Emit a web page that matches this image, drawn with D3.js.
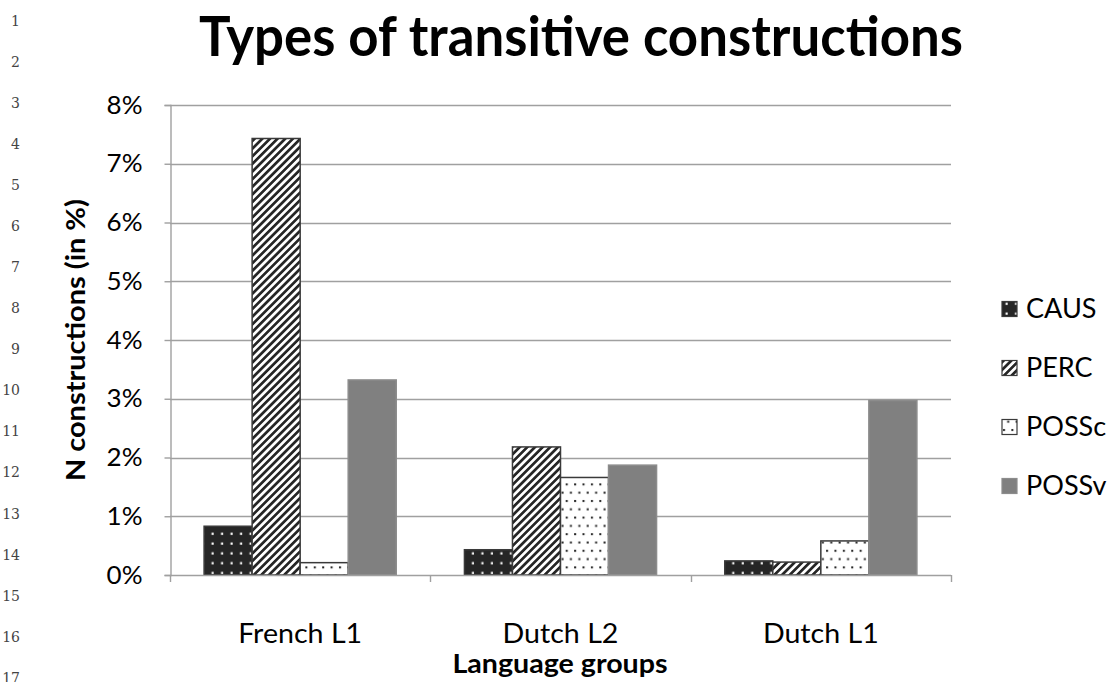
<!DOCTYPE html>
<html>
<head>
<meta charset="utf-8">
<script src="https://cdn.jsdelivr.net/npm/d3@7"></script>
<style>
  body { margin: 0; background: #fff; }
  svg { display: block; }
  text { font-family: Lato, "Open Sans", sans-serif; fill: #000; }
</style>
</head>
<body>
<svg width="1115" height="682"></svg>
<script>
// chart values (in %)
var categories = ['French L1', 'Dutch L2', 'Dutch L1'];
var seriesNames = ['CAUS', 'PERC', 'POSSc', 'POSSv'];
var caus = [0.83, 0.43, 0.24];
var perc = [7.43, 2.18, 0.22];
var possc = [0.21, 1.66, 0.58];
var possv = [3.32, 1.87, 2.97];
var yTicks = [0, 1, 2, 3, 4, 5, 6, 7, 8];
var lineNumbers = d3.range(1, 18);

var seriesValues = { CAUS: caus, PERC: perc, POSSc: possc, POSSv: possv };

var svg = d3.select('svg');
var defs = svg.append('defs');

// widen text a little: the original font (Calibri) runs wider than Lato here
function stretch(sel, k) {
    sel.each(function() {
        var len = this.getComputedTextLength();
        d3.select(this).attr('textLength', len * k).attr('lengthAdjust', 'spacingAndGlyphs');
    });
}

// fill patterns, approximating the Excel pattern fills
var pCaus = defs.append('pattern').attr('id', 'pat-CAUS')
    .attr('patternUnits', 'userSpaceOnUse').attr('width', 9.5).attr('height', 9.8);
pCaus.append('rect').attr('width', 9.5).attr('height', 9.8).attr('fill', '#262626');
pCaus.append('rect').attr('x', 3.5).attr('y', 3.5).attr('width', 2.2).attr('height', 2.2).attr('fill', '#fff');

var pPerc = defs.append('pattern').attr('id', 'pat-PERC')
    .attr('patternUnits', 'userSpaceOnUse').attr('width', 5.4).attr('height', 5.4)
    .attr('patternTransform', 'rotate(45)');
pPerc.append('rect').attr('width', 5.4).attr('height', 5.4).attr('fill', '#fff');
pPerc.append('rect').attr('width', 2.7).attr('height', 5.4).attr('fill', '#262626');

var pPossc = defs.append('pattern').attr('id', 'pat-POSSc')
    .attr('patternUnits', 'userSpaceOnUse').attr('width', 8.4).attr('height', 16.6);
pPossc.append('rect').attr('width', 8.4).attr('height', 16.6).attr('fill', '#fff');
pPossc.append('rect').attr('x', 1).attr('y', 2).attr('width', 2).attr('height', 2).attr('fill', '#222');
pPossc.append('rect').attr('x', 5.2).attr('y', 10.3).attr('width', 2).attr('height', 2).attr('fill', '#222');

var fills = {
    CAUS: 'url(#pat-CAUS)',
    PERC: 'url(#pat-PERC)',
    POSSc: 'url(#pat-POSSc)',
    POSSv: '#808080'
};
var strokes = { CAUS: '#3a3a3a', PERC: '#3a3a3a', POSSc: '#3a3a3a', POSSv: '#8c8c8c' };

var plot = { left: 170, right: 951, top: 105, bottom: 575 };

var y = d3.scaleLinear().domain([0, 8]).range([plot.bottom, plot.top]);
var x0 = d3.scaleBand().domain(categories).range([plot.left, plot.right]).padding(0);
var x1 = d3.scaleBand().domain(seriesNames).range([0, x0.bandwidth()])
    .paddingInner(0).paddingOuter(0.71);

// document line numbers on the left margin
svg.append('g').selectAll('text')
    .data(lineNumbers)
    .enter().append('text')
    .attr('x', 20)
    .attr('y', function(d) { return 21 + (d - 1) * 41.05; })
    .attr('dy', '0.35em')
    .attr('text-anchor', 'end')
    .style('font-family', '"DejaVu Serif", serif')
    .style('font-size', '14px')
    .style('fill', '#444')
    .text(function(d) { return d; });

// title
svg.append('text')
    .attr('x', 581)
    .attr('y', 56)
    .attr('text-anchor', 'middle')
    .attr('textLength', 764)
    .attr('lengthAdjust', 'spacingAndGlyphs')
    .style('font-size', '56px')
    .style('font-weight', 'bold')
    .text('Types of transitive constructions');

// gridlines
svg.append('g').selectAll('line')
    .data(yTicks.filter(function(d) { return d > 0; }))
    .enter().append('line')
    .attr('x1', plot.left).attr('x2', plot.right)
    .attr('y1', function(d) { return Math.round(y(d)) + 0.5; })
    .attr('y2', function(d) { return Math.round(y(d)) + 0.5; })
    .attr('stroke', '#a0a0a0')
    .attr('stroke-width', 1.4);

// y axis
var yAxis = svg.append('g')
    .attr('transform', 'translate(' + (plot.left + 0.5) + ',0)')
    .call(d3.axisLeft(y).tickValues(yTicks).tickSize(6).tickPadding(22)
        .tickFormat(function(d) { return d + '%'; }));
yAxis.select('.domain').attr('stroke', '#a0a0a0').attr('stroke-width', 1.4);
yAxis.selectAll('.tick line').attr('stroke', '#a0a0a0').attr('stroke-width', 1.4);
yAxis.selectAll('.tick text')
    .style('font-family', 'Lato, sans-serif')
    .style('font-size', '25px')
    .attr('fill', '#000')
    .call(stretch, 1.04);

// bars
var groups = svg.append('g').selectAll('g')
    .data(categories)
    .enter().append('g')
    .attr('transform', function(d) { return 'translate(' + x0(d) + ',0)'; });

groups.selectAll('rect')
    .data(function(d, i) {
        return seriesNames.map(function(s) { return { key: s, value: seriesValues[s][i] }; });
    })
    .enter().append('rect')
    .attr('x', function(d) { return x1(d.key); })
    .attr('y', function(d) { return y(d.value); })
    .attr('width', x1.bandwidth())
    .attr('height', function(d) { return y(0) - y(d.value); })
    .attr('fill', function(d) { return fills[d.key]; })
    .attr('stroke', function(d) { return strokes[d.key]; })
    .attr('stroke-width', 1.5);

// x axis line and boundary ticks
var boundaries = categories.map(function(c) { return x0(c); }).concat([plot.right]);
var xAxis = svg.append('g');
xAxis.append('line')
    .attr('x1', plot.left).attr('x2', plot.right)
    .attr('y1', plot.bottom + 0.5).attr('y2', plot.bottom + 0.5)
    .attr('stroke', '#a0a0a0').attr('stroke-width', 1.4);
xAxis.selectAll('.bt')
    .data(boundaries)
    .enter().append('line')
    .attr('class', 'bt')
    .attr('x1', function(d) { return Math.round(d) + 0.5; })
    .attr('x2', function(d) { return Math.round(d) + 0.5; })
    .attr('y1', plot.bottom).attr('y2', plot.bottom + 7)
    .attr('stroke', '#a0a0a0').attr('stroke-width', 1.4);
xAxis.selectAll('.cl')
    .data(categories)
    .enter().append('text')
    .attr('class', 'cl')
    .attr('x', function(d) { return x0(d) + x0.bandwidth() / 2; })
    .attr('y', 643)
    .attr('text-anchor', 'middle')
    .style('font-size', '26px')
    .text(function(d) { return d; })
    .call(stretch, 1.1);

// axis titles
svg.append('text')
    .attr('x', 560)
    .attr('y', 673)
    .attr('text-anchor', 'middle')
    .style('font-size', '26px')
    .style('font-weight', 'bold')
    .text('Language groups')
    .call(stretch, 1.1);

svg.append('text')
    .attr('transform', 'translate(85,340) rotate(-90)')
    .attr('text-anchor', 'middle')
    .attr('textLength', 282)
    .attr('lengthAdjust', 'spacingAndGlyphs')
    .style('font-size', '26px')
    .style('font-weight', 'bold')
    .text('N constructions (in %)');

// legend
var legend = svg.append('g').selectAll('g')
    .data(seriesNames)
    .enter().append('g')
    .attr('transform', function(d, i) { return 'translate(1002,' + (309 + i * 59) + ')'; });
legend.append('rect')
    .attr('x', 0).attr('y', -7.5)
    .attr('width', 15).attr('height', 15)
    .attr('fill', function(d) { return fills[d]; })
    .attr('stroke', function(d) { return strokes[d]; })
    .attr('stroke-width', 1.2);
legend.append('text')
    .attr('x', 24)
    .attr('dy', '0.36em')
    .style('font-size', '26px')
    .text(function(d) { return d; })
    .call(stretch, 1.04);
</script>
</body>
</html>
